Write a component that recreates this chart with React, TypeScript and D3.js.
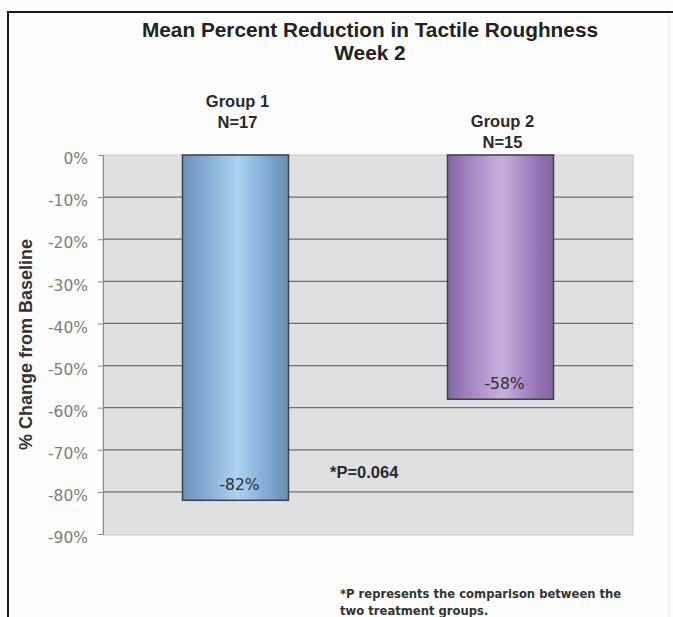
import React, {useEffect, useRef} from 'react'
import * as d3 from 'd3'

const groups = ["Group 1", "Group 2"]
const groupN = ["N=17", "N=15"]
const meanChange = [-82, -58]
const yTicks = [0, -10, -20, -30, -40, -50, -60, -70, -80, -90]
const pValue = "*P=0.064"
const footnote = ["*P represents the comparison between the", "two treatment groups."]

const barColors = [
    ["#6b8fb4", "#80a8d0", "#acd3f1", "#8cb5dc", "#769dc4", "#6a8db2"],
    ["#8265a4", "#9e82bd", "#cab0dc", "#a88ac6", "#9070b1", "#86689f"]
]

function App() {
    const ref = useRef<SVGSVGElement>(null)

    useEffect(() => {
        const svg = d3.select(ref.current)
        svg.selectAll("*").remove()

        const width = 673
        const height = 617
        const left = 103, right = 633, top = 155, bottom = 534

        const xScale = d3.scaleBand()
            .domain(groups)
            .range([left, right])
            .paddingInner(0.6)
            .paddingOuter(0.3)

        const yScale = d3.scaleLinear()
            .domain([0, -90])
            .range([top, bottom])

        svg.append("rect")
            .attr("width", width).attr("height", height)
            .attr("fill", "#fdfdfd")

        // frame
        svg.append("line")
            .attr("x1", 7).attr("x2", width).attr("y1", 12).attr("y2", 12)
            .attr("stroke", "#1a1a1a").attr("stroke-width", 2)
        svg.append("line")
            .attr("x1", 8).attr("x2", 8).attr("y1", 11).attr("y2", height)
            .attr("stroke", "#1a1a1a").attr("stroke-width", 2)
        svg.append("line")
            .attr("x1", 669).attr("x2", 669).attr("y1", 13).attr("y2", height)
            .attr("stroke", "#e6e6e6").attr("stroke-width", 1)

        // gradients
        const defs = svg.append("defs")
        barColors.forEach((cols, i) => {
            const g = defs.append("linearGradient")
                .attr("id", "bar" + i)
                .attr("x1", "0%").attr("x2", "100%").attr("y1", "0%").attr("y2", "0%")
            const offs = [0, 0.18, 0.52, 0.72, 0.88, 1]
            cols.forEach((c, j) => {
                g.append("stop").attr("offset", offs[j]).attr("stop-color", c)
            })
        })

        // plot area
        svg.append("rect")
            .attr("x", left).attr("y", top)
            .attr("width", right - left).attr("height", bottom - top + 1)
            .attr("fill", "#dfe0e2")
            .attr("stroke", "#cacbcc")
            .attr("stroke-width", 1)

        svg.append("g")
            .selectAll("line")
            .data(yTicks.filter(d => d !== 0 && d !== -90))
            .enter()
            .append("line")
            .attr("x1", left).attr("x2", right)
            .attr("y1", d => yScale(d)).attr("y2", d => yScale(d))
            .attr("stroke", "#6e6e6e")
            .attr("stroke-width", 1.3)

        // y axis
        const axisL = d3.axisLeft(yScale)
            .tickValues(yTicks)
            .tickSize(5)
            .tickPadding(10)
            .tickFormat(d => d + "%")

        const ax = svg.append("g")
            .attr("transform", "translate(" + left + ",0)")
            .call(axisL)
        ax.select(".domain").attr("stroke", "#8a8a8a")
        ax.selectAll(".tick line").attr("stroke", "#8a8a8a")
        ax.selectAll(".tick text")
            .attr("fill", "#7c7c7c")
            .attr("dy", "0.56em")
            .style("font-family", "'DejaVu Sans', sans-serif")
            .style("font-size", "15.5px")

        svg.append("text")
            .attr("transform", "translate(32, " + ((top + bottom) / 2) + ") rotate(-90)")
            .style("text-anchor", "middle")
            .style("font-family", "'Liberation Sans', Arial, sans-serif")
            .style("font-weight", "bold")
            .style("font-size", "18px")
            .attr("fill", "#333")
            .text("% Change from Baseline")

        // bars
        svg.selectAll(".bar")
            .data(meanChange)
            .enter()
            .append("rect")
            .attr("class", "bar")
            .attr("x", (d, i) => xScale(groups[i]) as number)
            .attr("y", yScale(0))
            .attr("width", xScale.bandwidth())
            .attr("height", d => yScale(d) - yScale(0))
            .attr("fill", (d, i) => "url(#bar" + i + ")")
            .attr("stroke", "#3e4246")
            .attr("stroke-width", 1.5)

        svg.selectAll(".val")
            .data(meanChange)
            .enter()
            .append("text")
            .attr("class", "val")
            .attr("x", (d, i) => (xScale(groups[i]) as number) + xScale.bandwidth() / 2 + 4)
            .attr("y", d => yScale(d) - 10)
            .style("text-anchor", "middle")
            .style("font-family", "'DejaVu Sans', sans-serif")
            .style("font-size", "15.5px")
            .attr("fill", "#2e2e2e")
            .text(d => d + "%")

        // group labels above bars
        groups.forEach((g, i) => {
            const cx = (xScale(g) as number) + xScale.bandwidth() / 2 + 2
            const lift = i === 0 ? 48 : 28
            const t = svg.append("text")
                .attr("x", cx)
                .attr("y", top - lift)
                .style("text-anchor", "middle")
                .style("font-family", "'Liberation Sans', Arial, sans-serif")
                .style("font-weight", "bold")
                .style("font-size", "16.5px")
                .attr("fill", "#2a2a2a")
            t.append("tspan").attr("x", cx).text(g)
            t.append("tspan").attr("x", cx).attr("dy", 20.5).text(groupN[i])
        })

        // title
        const title = svg.append("text")
            .attr("x", (left + right) / 2 + 2)
            .attr("y", 37)
            .style("text-anchor", "middle")
            .style("font-family", "'Liberation Sans', Arial, sans-serif")
            .style("font-weight", "bold")
            .style("font-size", "20.8px")
            .attr("fill", "#222")
        title.append("tspan").attr("x", (left + right) / 2 + 2).text("Mean Percent Reduction in Tactile Roughness")
        title.append("tspan").attr("x", (left + right) / 2 + 2).attr("dy", 23).text("Week 2")

        svg.append("text")
            .attr("x", 330)
            .attr("y", 478)
            .style("font-family", "'Liberation Sans', Arial, sans-serif")
            .style("font-weight", "bold")
            .style("font-size", "16.5px")
            .attr("fill", "#2a2a2a")
            .text(pValue)

        svg.selectAll(".foot")
            .data(footnote)
            .enter()
            .append("text")
            .attr("class", "foot")
            .attr("x", 340)
            .attr("y", (d, i) => 598 + i * 17)
            .style("font-family", "'DejaVu Sans', sans-serif")
            .style("font-weight", "bold")
            .style("font-size", "11.6px")
            .attr("fill", "#333")
            .text(d => d)
    }, [])

    return (
        <svg ref={ref} width={673} height={617}
            style={{position: "absolute", left: 0, top: 0, display: "block"}} />
    )
}

export default App
